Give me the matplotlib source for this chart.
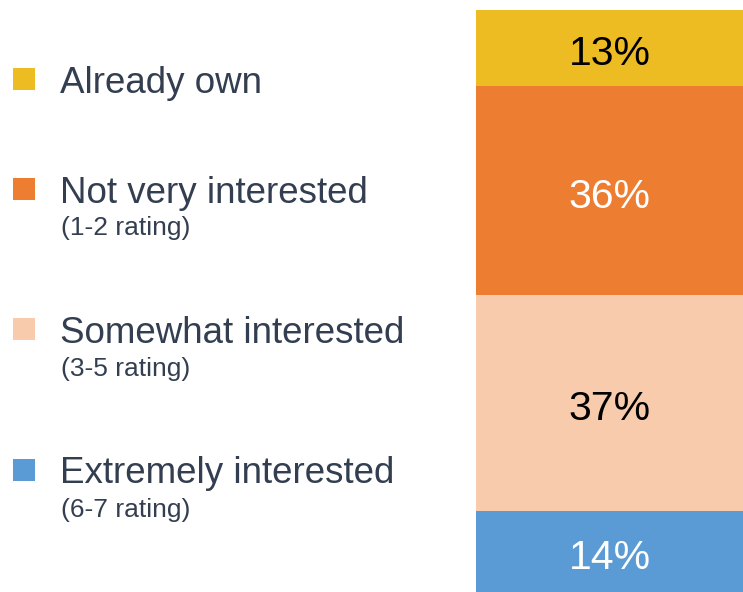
import matplotlib
matplotlib.use("Agg")
import matplotlib.pyplot as plt
from matplotlib.patches import Rectangle

plt.rcParams['font.family'] = ['Liberation Sans', 'DejaVu Sans']

categories = ["Already own", "Not very interested", "Somewhat interested", "Extremely interested"]
sublabels = ["", "(1-2 rating)", "(3-5 rating)", "(6-7 rating)"]
values = [13, 36, 37, 14]
colors = ["#EDBB22", "#ED7D31", "#F8CBAD", "#5B9BD5"]
label_colors = ["black", "white", "black", "white"]

W, H = 743, 592
fig = plt.figure(figsize=(W / 100, H / 100), dpi=100)

# stacked bar
ax = fig.add_axes([476 / W, 0, 267 / W, 582 / H])
bottom = 0
for v, c, lc in zip(values, colors, label_colors):
    ax.bar(0, v, bottom=bottom, width=1.0, color=c, edgecolor='none')
    ax.annotate(f"{v}%", xy=(0, bottom + v / 2), xytext=(0, -12.5),
                textcoords='offset points', ha='center', va='baseline',
                fontsize=29.5, color=lc)
    bottom += v
ax.set_xlim(-0.5, 0.5)
ax.set_ylim(sum(values), 0)
ax.axis('off')

# legend (custom)
lax = fig.add_axes([0, 0, 1, 1])
lax.set_xlim(0, W)
lax.set_ylim(H, 0)
lax.axis('off')
text_color = "#333F50"
marker_centers = [79, 189, 329, 470]
main_baselines = [93, 203, 343, 483]
sub_baselines = [None, 235, 376, 517]
for cat, sub, c, my, mb, sb in zip(categories, sublabels, colors, marker_centers,
                                   main_baselines, sub_baselines):
    lax.add_patch(Rectangle((13, my - 11), 22, 22, facecolor=c, edgecolor='none'))
    lax.text(60, mb, cat, fontsize=26.5, color=text_color, va='baseline', ha='left')
    if sub:
        lax.text(61, sb, sub, fontsize=19, color=text_color, va='baseline', ha='left')

fig.savefig("out.png", dpi=100)
